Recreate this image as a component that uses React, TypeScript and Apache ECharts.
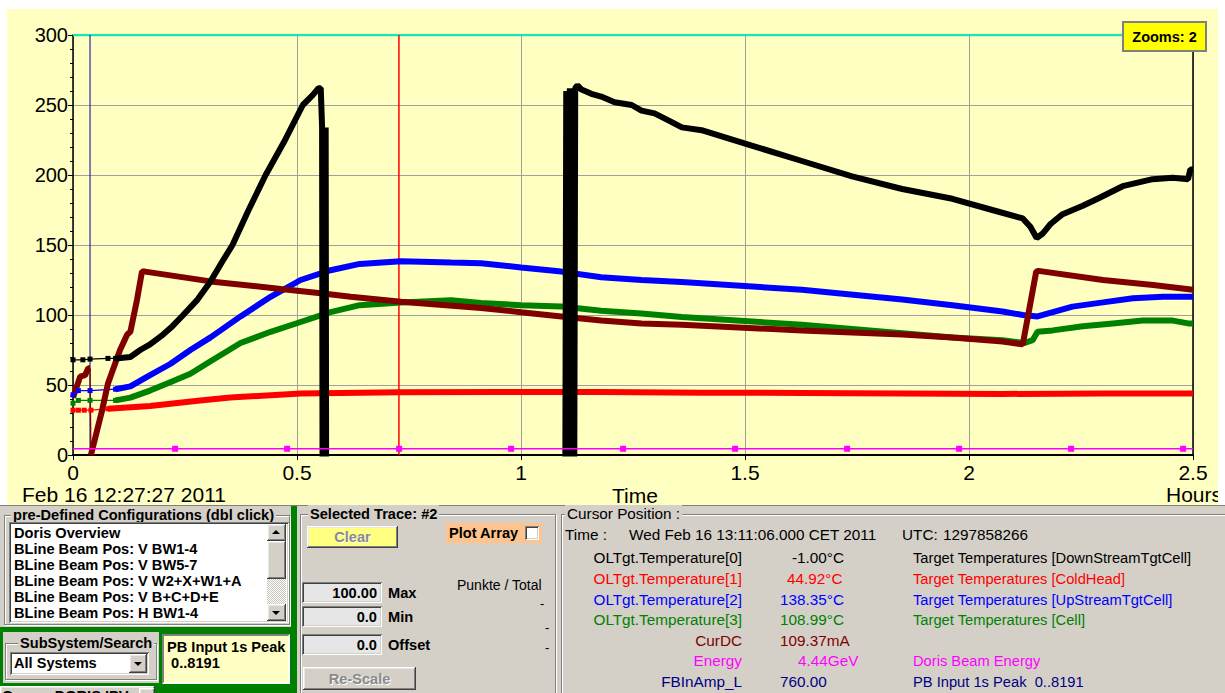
import React, { useEffect, useRef } from "react";
import * as echarts from "echarts";

// ---------------- chart data (x: hours since start, y: axis units) ----------------
const startLabel = "Feb 16 12:27:27 2011";
const xName = "Time";
const xUnit = "Hours";
const zoomsLabel = "Zooms: 2";
const xMin = 0, xMax = 2.5, xStep = 0.5;
const yMin = 0, yMax = 300, yStep = 50;

const limitTrace = [[0, 300], [2.5, 300]];
const cursorLeft = [[0.038, 0], [0.038, 300]];
const cursorMain = [[0.7275, 0], [0.7275, 300]];

// OLTgt.Temperature[0] (black); null = trace below the axis (not drawn)
const blackHead = [[0, 68], [0.022, 68], [0.038, 68.5], [0.078, 69], [0.095, 69]];
const blackTrace = [
  [0.095, 69], [0.128, 70], [0.15, 75], [0.172, 79], [0.201, 86], [0.222, 92], [0.246, 100],
  [0.278, 111], [0.307, 124], [0.333, 138], [0.356, 150], [0.392, 175], [0.43, 200], [0.47, 223],
  [0.513, 250], [0.535, 257], [0.548, 262], [0.553, 262], [0.556, 234],
  [0.557, -1], [0.558, 234], [0.559, -1], [0.56, 234], [0.561, -1], [0.562, 234], [0.563, -1],
  [0.564, 234], [0.565, -1], [0.8, null], [1.099, -1],
  [1.101, 260], [1.103, -1], [1.105, 260], [1.107, -1], [1.109, 262], [1.111, -1], [1.113, 262],
  [1.115, -1], [1.117, 262], [1.119, -1], [1.121, 262],
  [1.126, 264], [1.135, 261], [1.157, 258], [1.179, 256], [1.209, 252], [1.247, 250], [1.269, 246],
  [1.298, 244], [1.329, 239], [1.359, 234], [1.403, 232], [1.515, 221], [1.627, 210], [1.739, 199],
  [1.851, 190], [1.963, 183], [2.052, 175], [2.12, 169], [2.137, 163], [2.151, 155], [2.164, 158],
  [2.182, 165], [2.209, 172], [2.254, 178], [2.287, 183], [2.343, 192], [2.41, 197], [2.455, 198],
  [2.489, 197], [2.494, 204], [2.5, 204],
];

// OLTgt.Temperature[1] (red)
const redHead = [[0, 32], [0.012, 32], [0.025, 32], [0.04, 32], [0.078, 33]];
const redTrace = [
  [0.078, 33], [0.172, 35], [0.284, 39], [0.351, 41], [0.508, 44], [0.732, 44.9], [0.956, 45],
  [1.179, 45], [1.403, 44.5], [1.627, 44.3], [1.851, 44], [2.075, 43.6], [2.299, 44], [2.5, 44],
];

// OLTgt.Temperature[2] (blue)
const blueHead = [[0, 43], [0.012, 46], [0.038, 46], [0.095, 47]];
const blueTrace = [
  [0.095, 47], [0.128, 49], [0.172, 57], [0.217, 65], [0.262, 75], [0.307, 84], [0.374, 99],
  [0.441, 113], [0.508, 125], [0.575, 132], [0.64, 136.5], [0.732, 138.4], [0.844, 137.5], [0.911, 137],
  [1.0, 134], [1.09, 131], [1.179, 127], [1.269, 125], [1.359, 123.6], [1.627, 118], [1.851, 111],
  [1.963, 107], [2.075, 102.5], [2.12, 100], [2.153, 99], [2.187, 102], [2.231, 106], [2.299, 109],
  [2.366, 112], [2.433, 113], [2.5, 113],
];

// OLTgt.Temperature[3] (green)
const greenHead = [[0, 37], [0.012, 39], [0.038, 39], [0.095, 39]];
const greenTrace = [
  [0.095, 39], [0.128, 41], [0.172, 46], [0.217, 52], [0.262, 58], [0.307, 67], [0.374, 80],
  [0.441, 88], [0.508, 95], [0.575, 102], [0.64, 107], [0.732, 109], [0.844, 110.5], [0.911, 108.5],
  [1.0, 107], [1.09, 106], [1.179, 103], [1.269, 101], [1.359, 98.6], [1.627, 93], [1.851, 87],
  [1.963, 84], [2.075, 82], [2.124, 80], [2.142, 82], [2.153, 88], [2.187, 89], [2.254, 92],
  [2.321, 94], [2.388, 96], [2.455, 96], [2.489, 94], [2.5, 94],
];

// CurDC (dark red)
const curHead = [[0, 41], [0.016, 56], [0.027, 57], [0.034, 62], [0.038, 62]];
const curDrop = [[0.038, 62], [0.04, 0]];
const curTrace = [
  [0.04, 0], [0.065, 32], [0.078, 51], [0.105, 75], [0.121, 86], [0.128, 88], [0.143, 111],
  [0.154, 131], [0.161, 131], [0.307, 124], [0.464, 118.6], [0.553, 115.6], [0.62, 113],
  [0.732, 109.4], [0.911, 105], [1.0, 102], [1.09, 99], [1.179, 96], [1.269, 94], [1.359, 93],
  [1.627, 89], [1.851, 86], [1.963, 84], [2.075, 81], [2.12, 79], [2.15, 131], [2.155, 131.5],
  [2.299, 125], [2.411, 121.4], [2.5, 118],
];

// Energy (magenta)
const energyTimes = [0, 0.228, 0.478, 0.728, 0.978, 1.228, 1.478, 1.728, 1.978, 2.228, 2.478, 2.5];
const energyValues = [4.44, 4.44, 4.44, 4.44, 4.44, 4.44, 4.44, 4.44, 4.44, 4.44, 4.44, 4.44];
const energyMarked = [false, true, true, true, true, true, true, true, true, true, true, false];

// ---------------- panel texts ----------------
const configTitle = "pre-Defined Configurations (dbl click)";
const configItems = [
  "Doris Overview",
  "BLine Beam Pos: V BW1-4",
  "BLine Beam Pos: V BW5-7",
  "BLine Beam Pos: V W2+X+W1+A",
  "BLine Beam Pos: V B+C+D+E",
  "BLine Beam Pos: H BW1-4",
];
const subsystemTitle = "SubSystem/Search";
const subsystemValue = "All Systems";
const pbLines = ["PB Input 1s Peak", " 0..8191"];
const groupLabel = "Group :DORIS IPV";

const traceTitle = "Selected Trace: #2";
const fieldValues = ["100.00", "0.0", "0.0"];
const fieldLabels = ["Max", "Min", "Offset"];

const cursorTitle = "Cursor Position :";
const cursorTimeParts = ["Time :", "Wed Feb 16 13:11:06.000 CET 2011", "UTC:", "1297858266"];
const cursorLabels = ["OLTgt.Temperature[0]", "OLTgt.Temperature[1]", "OLTgt.Temperature[2]", "OLTgt.Temperature[3]", "CurDC", "Energy", "FBInAmp_L"];
const cursorValues = ["-1.00°C", "44.92°C", "138.35°C", "108.99°C", "109.37mA", "4.44GeV", "760.00"];
const cursorDescs = [
  "Target Temperatures [DownStreamTgtCell]",
  "Target Temperatures [ColdHead]",
  "Target Temperatures [UpStreamTgtCell]",
  "Target Temperatures [Cell]",
  "",
  "Doris Beam Energy",
  "PB Input 1s Peak  0..8191",
];

// ---------------- styles ----------------
const SANS = '"Liberation Sans", Arial, sans-serif';
const GRAY = "#D4D0C8";
const GREEN = "#008000";
const traceColors = ["#000000", "#FF0000", "#0000FF", "#008000", "#800000", "#FF00FF", "#000080"];
const valueX = [792, 787, 780, 780, 780, 798, 780];
const rowY = [558, 579, 600, 620, 641, 661, 682];

const raised = { boxShadow: "inset -1px -1px 0 #404040, inset 1px 1px 0 #FFFFFF, inset -2px -2px 0 #808080, inset 2px 2px 0 #E8E8E8" };
const sunken = { boxShadow: "inset 1px 1px 0 #808080, inset -1px -1px 0 #FFFFFF, inset 2px 2px 0 #404040, inset -2px -2px 0 #D4D0C8" };
const etched = { border: "1px solid #808080", boxShadow: "1px 1px 0 #FFFFFF, inset 1px 1px 0 #FFFFFF" };

function thick(data: any, color: string, width = 6) {
  return { type: "line", data, symbol: "none", showSymbol: false, silent: true, connectNulls: false, lineStyle: { color, width }, itemStyle: { color } };
}
function thin(data: any, color: string, withSymbols = true) {
  return {
    type: "line", data, silent: true,
    symbol: withSymbols ? "rect" : "none", symbolSize: 5, showAllSymbol: true,
    lineStyle: { color, width: 1.3 }, itemStyle: { color },
  };
}

function buildOption() {
  const energyData = energyTimes.map((t, i) => ({ value: [t, energyValues[i]], symbol: energyMarked[i] ? "rect" : "none" }));
  const blackData = blackTrace.map((p) => (p[1] == null ? [p[0], "-"] : p));
  return {
    animation: false,
    backgroundColor: "#FFFFC2",
    textStyle: { fontFamily: SANS },
    grid: { left: 66, right: 25, top: 26, bottom: 50 },
    xAxis: {
      type: "value", min: xMin, max: xMax, interval: xStep,
      axisLine: { show: true, onZero: false, lineStyle: { color: "#000", width: 2 } },
      axisTick: { show: true, length: 5, lineStyle: { color: "#000", width: 1 } },
      axisLabel: { color: "#000", fontSize: 21, fontFamily: SANS, margin: 7 },
      splitLine: { show: true, lineStyle: { color: "#A0A0A0", width: 1 } },
    },
    yAxis: [
      {
        type: "value", min: yMin, max: yMax, interval: yStep,
        axisLine: { show: true, onZero: false, lineStyle: { color: "#000", width: 1.5 } },
        axisTick: { show: true, length: 5, lineStyle: { color: "#000" } },
        minorTick: { show: true, splitNumber: 5, length: 3, lineStyle: { color: "#000" } },
        axisLabel: { color: "#000", fontSize: 20, fontFamily: SANS, margin: 5 },
        splitLine: { show: true, lineStyle: { color: "#A0A0A0", width: 1 } },
      },
      {
        type: "value", min: yMin, max: yMax, interval: yStep, position: "right",
        axisLine: { show: true, onZero: false, lineStyle: { color: "#000", width: 1.5 } },
        axisTick: { show: false }, axisLabel: { show: false }, splitLine: { show: false },
      },
    ],
    series: [
      thick(limitTrace, "#19E6B4", 2.5),
      thick(cursorLeft, "#0000A0", 1),
      thick(cursorMain, "#FF0000", 1.5),
      thin(redHead, "#FF0000"),
      thick(redTrace, "#FF0000"),
      thin(greenHead, "#008000"),
      thick(greenTrace, "#008000"),
      thin(blueHead, "#0000FF"),
      thick(blueTrace, "#0000FF"),
      thick(curHead, "#800000"),
      thin(curDrop, "#800000", false),
      thick(curTrace, "#800000"),
      thin(blackHead, "#000000"),
      thick(blackData, "#000000", 6),
      {
        type: "line", data: energyData, silent: true, symbol: "rect", symbolSize: 6, showAllSymbol: true,
        lineStyle: { color: "#FF00FF", width: 1.5 }, itemStyle: { color: "#FF00FF" },
      },
    ],
    graphic: [
      { type: "rect", x: 1116, y: 13, shape: { width: 83, height: 29 }, style: { fill: "#FFFF00", stroke: "#808080", lineWidth: 2 }, z: 100 },
      { type: "text", x: 1157.5, y: 28, style: { text: zoomsLabel, fill: "#000", font: `bold 14.5px ${SANS}`, align: "center", verticalAlign: "middle" }, z: 101 },
      { type: "text", x: 15, y: 485, style: { text: startLabel, fill: "#000", font: `21px ${SANS}`, verticalAlign: "middle" }, z: 100 },
      { type: "text", x: 628, y: 486, style: { text: xName, fill: "#000", font: `21px ${SANS}`, align: "center", verticalAlign: "middle" }, z: 100 },
      { type: "text", x: 1159, y: 485, style: { text: xUnit, fill: "#000", font: `21px ${SANS}`, verticalAlign: "middle" }, z: 100 },
    ],
  };
}

function Chart() {
  const ref = useRef<HTMLDivElement>(null);
  useEffect(() => {
    const chart = echarts.init(ref.current as HTMLDivElement, null, { renderer: "svg" });
    chart.setOption(buildOption() as any);
    return () => chart.dispose();
  }, []);
  return <div ref={ref} style={{ position: "absolute", left: 7, top: 9, width: 1211, height: 496 }} />;
}

function Box({ l, t, w, h, s }: any) {
  return <div style={{ position: "absolute", left: l, top: t, width: w, height: h, boxSizing: "border-box", ...s }} />;
}

function Txt({ x, right, cx, y, text, color = "#000", bold = false, size, bg, shadow }: any) {
  const fs = size ?? (bold ? 14.6 : 15.3);
  const lh = Math.round(fs * 1.2);
  const st: any = {
    position: "absolute", top: y - lh / 2, height: lh, lineHeight: lh + "px", fontSize: fs,
    fontWeight: bold ? 700 : 400, color, whiteSpace: "pre", fontFamily: SANS,
  };
  if (right != null) { st.left = right - 500; st.width = 500; st.textAlign = "right"; }
  else if (cx != null) { st.left = cx - 250; st.width = 500; st.textAlign = "center"; }
  else st.left = x;
  if (bg) { st.background = bg; st.padding = "0 2px"; st.left = x - 2; }
  if (shadow) st.textShadow = shadow;
  return <div style={st}>{text}</div>;
}

function Arrow({ x, y, up }: any) {
  const st: any = {
    position: "absolute", left: x, top: y, width: 0, height: 0,
    borderLeft: "4px solid transparent", borderRight: "4px solid transparent",
  };
  if (up) st.borderBottom = "4px solid #000"; else st.borderTop = "4px solid #000";
  return <div style={st} />;
}

function Panels() {
  const fieldTops = [582, 606, 634];
  return (
    <>
      <Box l={0} t={505} w={1225} h={188} s={{ background: GRAY }} />
      <Box l={0} t={505} w={1225} h={1} s={{ background: "#808080" }} />

      {/* left column */}
      <Box l={0} t={506} w={297} h={187} s={{ background: GREEN }} />
      <Box l={0} t={506} w={291} h={121} s={{ background: GRAY }} />
      <Box l={4} t={515} w={286} h={110} s={etched} />
      <Txt x={13} y={515} text={configTitle} bold bg={GRAY} />
      <Box l={9} t={522} w={280} h={101} s={{ background: "#FFFFFF", ...sunken }} />
      {configItems.map((s, i) => <Txt key={i} x={14} y={533 + 16 * i} text={s} bold />)}
      <Box l={267} t={524} w={19} h={17} s={{ background: GRAY, ...raised }} />
      <Arrow x={272} y={530} up />
      <Box l={267} t={541} w={19} h={38} s={{ background: GRAY, ...raised }} />
      <Box l={267} t={579} w={19} h={25} s={{ backgroundImage: "repeating-conic-gradient(#FFFFFF 0 25%, #C8C4BC 0 50%)", backgroundSize: "2px 2px" }} />
      <Box l={267} t={604} w={19} h={17} s={{ background: GRAY, ...raised }} />
      <Arrow x={272} y={611} />

      <Box l={3} t={632} w={156} h={51} s={{ background: GRAY }} />
      <Box l={5} t={643} w={152} h={37} s={etched} />
      <Txt x={20} y={643} text={subsystemTitle} bold bg={GRAY} />
      <Box l={10} t={652} w={139} h={23} s={{ background: "#FFFFFF", ...sunken }} />
      <Txt x={14} y={663} text={subsystemValue} bold />
      <Box l={129} t={654} w={18} h={19} s={{ background: GRAY, ...raised }} />
      <Arrow x={134} y={662} />

      <Box l={162} t={634} w={128} h={50} s={{ background: "#FFFFC4", border: "2px solid", borderColor: "#808080 #FFFFFF #FFFFFF #808080" }} />
      <Txt x={167} y={647} text={pbLines[0]} bold />
      <Txt x={167} y={663} text={pbLines[1]} bold />

      <Box l={0} t={686} w={155} h={20} s={{ background: GRAY, ...raised }} />
      <Txt x={2} y={696} text={groupLabel} bold />
      <Box l={139} t={688} w={16} h={16} s={{ background: GRAY, ...raised }} />

      {/* middle column */}
      <Box l={300} t={514} w={256} h={200} s={etched} />
      <Txt x={310} y={514} text={traceTitle} bold bg={GRAY} />
      <Box l={307} t={526} w={91} h={22} s={{ background: "#FFFF80", ...raised }} />
      <Txt cx={352.5} y={537} text="Clear" bold color="#8A8A8A" shadow="1px 1px 0 #FFFFFF" />
      <Box l={446} t={523} w={96} h={20} s={{ background: "#FFC48E" }} />
      <Txt x={449} y={533} text="Plot Array" bold />
      <Box l={525} t={526} w={14} h={14} s={{ background: "#FFFFFF", ...sunken }} />
      <Txt x={457} y={585} text="Punkte / Total" size={14} />
      {fieldValues.map((v, i) => (
        <React.Fragment key={i}>
          <Box l={302} t={fieldTops[i]} w={80} h={21} s={{ background: "#E6E6E6", ...sunken }} />
          <Txt right={377} y={fieldTops[i] + 10.5} text={v} bold />
          <Txt x={388} y={fieldTops[i] + 11} text={fieldLabels[i]} bold />
        </React.Fragment>
      ))}
      <Txt x={540} y={604} text="-" size={13} />
      <Txt x={545} y={628} text="-" size={13} />
      <Txt x={545} y={648} text="-" size={13} />
      <Box l={303} t={667} w={113} h={23} s={{ background: GRAY, ...raised }} />
      <Txt cx={359.5} y={678.5} text="Re-Scale" bold color="#8A8A8A" shadow="1px 1px 0 #FFFFFF" />

      {/* right column */}
      <Box l={561} t={514} w={700} h={200} s={etched} />
      <Txt x={567} y={514} text={cursorTitle} bg={GRAY} />
      <Txt x={565} y={535} text={cursorTimeParts[0]} />
      <Txt x={629} y={535} text={cursorTimeParts[1]} />
      <Txt x={902} y={535} text={cursorTimeParts[2]} />
      <Txt x={943} y={535} text={cursorTimeParts[3]} />
      {cursorLabels.map((lab, i) => (
        <React.Fragment key={i}>
          <Txt right={742} y={rowY[i]} text={lab} color={traceColors[i]} />
          <Txt x={valueX[i]} y={rowY[i]} text={cursorValues[i]} color={traceColors[i]} />
          <Txt x={913} y={rowY[i]} text={cursorDescs[i]} color={traceColors[i]} size={14.7} />
        </React.Fragment>
      ))}
    </>
  );
}

export default function App() {
  return (
    <div style={{ position: "fixed", left: 0, top: 0, width: 1225, height: 693, overflow: "hidden", background: "#FFFFFF", fontFamily: SANS }}>
      <Chart />
      <Panels />
    </div>
  );
}
